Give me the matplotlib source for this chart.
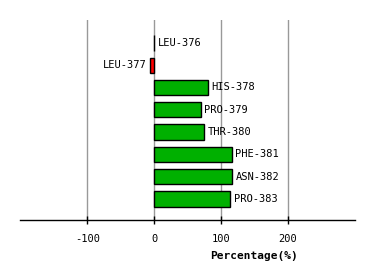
import matplotlib
matplotlib.use("Agg")
import matplotlib.pyplot as plt

# --- datos ---
residues = ["LEU-376", "LEU-377", "HIS-378", "PRO-379", "THR-380",
            "PHE-381", "ASN-382", "PRO-383"]
percentages = [0.5, -6, 80, 69.5, 75, 116, 117, 114]
ticks = [-100, 0, 100, 200]

fig = plt.figure(figsize=(3.74, 2.8), dpi=100)
ax = fig.add_axes([20 / 374, 60 / 280, 335 / 374, 200 / 280])

colors = ["#00B000" if v > 0 else "#FF0000" for v in percentages]
y = list(range(len(residues)))
ax.barh(y, percentages, height=0.69, color=colors, edgecolor="black",
        linewidth=1, zorder=3)

for i, (name, v) in enumerate(zip(residues, percentages)):
    if v >= 0:
        ax.text(v + 5, i, name, va="center", ha="left", fontsize=7.5,
                family="DejaVu Sans Mono", zorder=4)
    else:
        ax.text(v - 5, i, name, va="center", ha="right", fontsize=7.5,
                family="DejaVu Sans Mono", zorder=4)

ax.set_xlim(-201, 301)
ax.set_ylim(7.95, -1.03)
ax.set_xticks(ticks)
ax.set_xticklabels([str(t) for t in ticks], family="DejaVu Sans Mono",
                   fontsize=7.5)
ax.set_yticks([])
ax.grid(axis="x", color="#999999", linewidth=1, zorder=0)
for s in ["top", "right", "left"]:
    ax.spines[s].set_visible(False)
ax.spines["bottom"].set_linewidth(1)
ax.tick_params(axis="x", length=6, width=1, color="black", pad=7,
               direction="inout")
ax.set_xlabel("Percentage(%)", fontsize=8, fontweight="bold",
              family="DejaVu Sans Mono")
ax.xaxis.set_label_coords(0.70, -0.155)

fig.savefig("out.png", dpi=100)
